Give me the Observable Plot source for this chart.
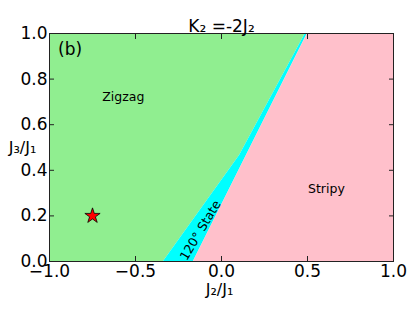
<!DOCTYPE html>
<html>
<head>
<meta charset="utf-8">
<script src="https://cdn.jsdelivr.net/npm/d3@7"></script>
<script src="https://cdn.jsdelivr.net/npm/@observablehq/plot@0.6"></script>
<style>
  html, body { margin: 0; padding: 0; background: #fff; }
</style>
</head>
<body>
<div id="chart"></div>
<script>
// Phase boundaries (J3/J1 levels and J2/J1 edges)
const boundaryJ3 = [0, 0.465, 1];
const zigzagEdge = [-0.337, 0.105, 0.488];   // Zigzag | 120° State
const stripyEdge = [-0.163, 0.145, 0.500];   // 120° State | Stripy

// Marker
const starJ2 = [-0.75];
const starJ3 = [0.2];

// Labels
const phaseNames = ["Zigzag", "Stripy"];
const phaseJ2 = [-0.571, 0.61];
const phaseJ3 = [0.72, 0.316];
const stateLabel = ["120° State"];
const stateJ2 = [-0.122];
const stateJ3 = [0.136];
const panelLabel = ["(b)"];
const panelJ2 = [-0.95];
const panelJ3 = [0.93];

// Ticks
const xTicks = [-1, -0.5, 0, 0.5, 1];
const xTickLabels = ["\u22121.0", "\u22120.5", "0.0", "0.5", "1.0"];
const yTicks = [0, 0.2, 0.4, 0.6, 0.8, 1.0];
const yTickLabels = ["0.0", "0.2", "0.4", "0.6", "0.8", "1.0"];

const titleText = "K\u2082 =-2J\u2082";
const xLabel = "J\u2082/J\u2081";
const yLabel = "J\u2083/J\u2081";

const rows = boundaryJ3.map((y, i) => ({y, left: -1, z: zigzagEdge[i], s: stripyEdge[i], right: 1}));

const chart = Plot.plot({
  width: 415,
  height: 312,
  marginLeft: 49,
  marginRight: 22,
  marginTop: 33,
  marginBottom: 51,
  style: {fontFamily: "DejaVu Sans", background: "#fff", overflow: "visible"},
  x: {domain: [-1, 1]},
  y: {domain: [0, 1]},
  marks: [
    Plot.areaX(rows, {y: "y", x1: "left", x2: "z", fill: "#90EE90"}),
    Plot.areaX(rows, {y: "y", x1: "z", x2: "s", fill: "#00FFFF"}),
    Plot.areaX(rows, {y: "y", x1: "s", x2: "right", fill: "#FFC0CB"}),
    Plot.frame({stroke: "#222", strokeWidth: 1}),
    // inward ticks on all sides
    Plot.axisX({anchor: "bottom", ticks: xTicks, tickSize: 5, dy: -5, tickFormat: () => "", stroke: "#222", label: null}),
    Plot.axisX({anchor: "top", ticks: xTicks, tickSize: 5, dy: 5, tickFormat: () => "", stroke: "#222", label: null}),
    Plot.axisY({anchor: "left", ticks: yTicks, tickSize: 5, dx: 5, tickFormat: () => "", stroke: "#222", label: null}),
    Plot.axisY({anchor: "right", ticks: yTicks, tickSize: 5, dx: -5, tickFormat: () => "", stroke: "#222", label: null}),
    // tick labels
    Plot.axisX({anchor: "bottom", ticks: xTicks, tickSize: 0, tickPadding: 3, fontSize: 17, fill: "#000",
      tickFormat: (d, i) => xTickLabels[i], label: null}),
    Plot.axisY({anchor: "left", ticks: yTicks, tickSize: 0, tickPadding: 2, fontSize: 17, fill: "#000",
      tickFormat: (d, i) => yTickLabels[i], label: null}),
    // region labels
    Plot.text(phaseNames, {x: (d, i) => phaseJ2[i], y: (d, i) => phaseJ3[i], text: d => d, fontSize: 12.5, fill: "#000"}),
    Plot.text(stateLabel, {x: (d, i) => stateJ2[i], y: (d, i) => stateJ3[i], text: d => d, fontSize: 12.5, rotate: -59, fill: "#000"}),
    Plot.text(panelLabel, {x: (d, i) => panelJ2[i], y: (d, i) => panelJ3[i], text: d => d, fontSize: 17, textAnchor: "start", fill: "#000"}),
    // star marker
    Plot.dot(starJ2, {x: d => d, y: (d, i) => starJ3[i], symbol: "star", r: 4.8, fill: "red", stroke: "black", strokeWidth: 0.8}),
    // title and axis labels
    Plot.text([titleText], {frameAnchor: "top", dy: -14, fontSize: 17, fill: "#000"}),
    Plot.text([xLabel], {frameAnchor: "bottom", dy: 33, dx: -2, fontSize: 16, fill: "#000"}),
    Plot.text([yLabel], {frameAnchor: "left", dx: -27, fontSize: 16, textAnchor: "middle", fill: "#000"})
  ]
});
document.getElementById("chart").appendChild(chart);
</script>
</body>
</html>
